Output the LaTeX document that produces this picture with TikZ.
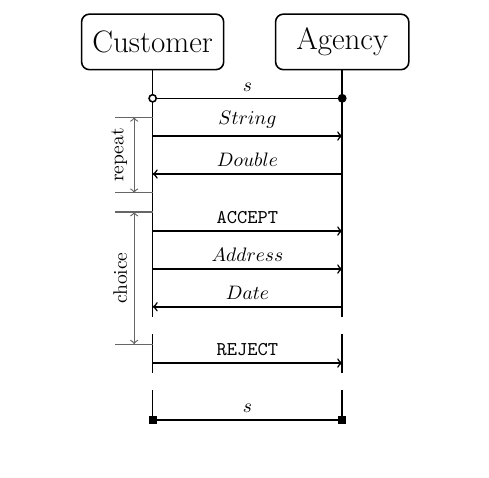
\documentclass[tikz,border=0pt]{standalone}
\usetikzlibrary{arrows}
\begin{document}
\begin{tikzpicture}[party/.style={draw, thick, rounded corners=4pt, minimum height=1cm, minimum width=2.4cm, inner xsep=3pt, font=\fontsize{15.9}{19}\selectfont},
 life/.style={black, thick},
 msg/.style={black, thick},
 span/.style={black!60, semithick, <->}]
\useasboundingbox (-2.75,-8.6) rectangle (6.06,0);
\node[party, minimum width=2.56cm] (cust) at (0,-0.755) {Customer};
\node[party] (agen) at (3.415,-0.755) {Agency};
\coordinate (cend) at (0,-5.707);
\coordinate (aend) at (3.415,-5.707);
\draw[life] (cust.south) -- (cend);
\draw[life] (agen.south) -- (aend);
\foreach \t/\b in {-6.02/-6.72,-7.03/-7.57} {
 \draw[life] (0,\t) -- (0,\b);
 \draw[life] (3.415,\t) -- (3.415,\b);
}
\foreach \n/\y in {sa/-1.771, str/-2.451, dbl/-3.135, acc/-4.163, adr/-4.847, dat/-5.527, rej/-6.541, sb/-7.568} {
 \coordinate (c\n) at (0,\y);
 \coordinate (a\n) at (3.415,\y);
}
\draw[msg] (csa) -- node[above]{$s$} (asa);
\draw[msg, ->] (cstr) -- node[above]{$String$} (astr);
\draw[msg, <-] (cdbl) -- node[above]{$Double$} (adbl);
\draw[msg, ->] (cacc) -- node[above]{\texttt{ACCEPT}} (aacc);
\draw[msg, ->] (cadr) -- node[above]{$Address$} (aadr);
\draw[msg, <-] (cdat) -- node[above]{$Date$} (adat);
\draw[msg, ->] (crej) -- node[above]{\texttt{REJECT}} (arej);
\draw[msg] (csb) -- node[above]{$s$} (asb);
\filldraw[fill=white, thick] (csa) circle (0.065);
\fill (asa) circle (0.08);
\foreach \p in {csb,asb}
 \fill (\p) ++(-0.072,-0.072) rectangle ++(0.144,0.144);
\coordinate (rtop) at (-0.676,-2.114);
\coordinate (rbot) at (-0.676,-3.473);
\coordinate (ctop) at (-0.676,-3.82);
\coordinate (cbot) at (-0.676,-6.2);
\foreach \p in {rtop,rbot,ctop,cbot}
 \draw[black!60, semithick] (\p) -- ++(0.676,0);
\draw[span] ([xshift=0.343cm]rtop) -- node[above, rotate=90, text=black]{repeat} ([xshift=0.343cm]rbot);
\draw[span] ([xshift=0.343cm]ctop) -- node[above, rotate=90, text=black]{choice} ([xshift=0.343cm]cbot);
\end{tikzpicture}
\end{document}
